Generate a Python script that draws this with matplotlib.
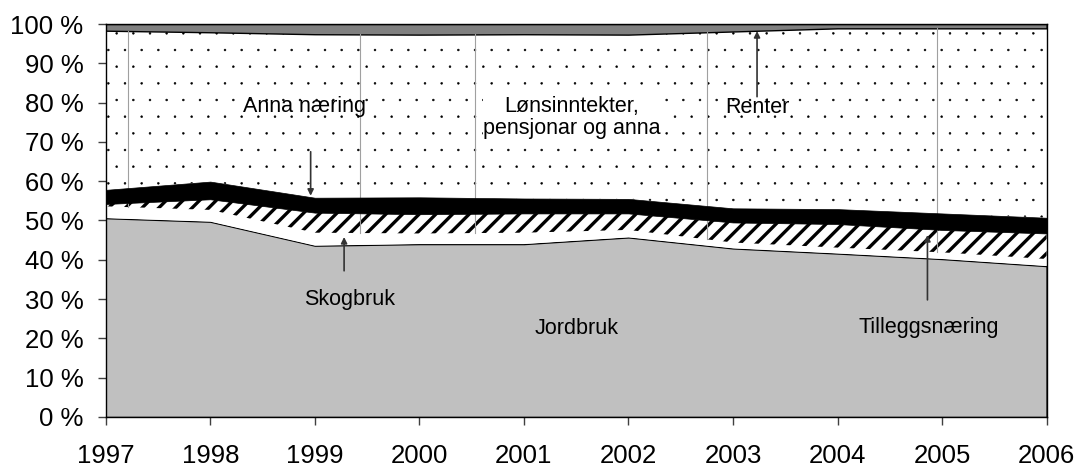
import matplotlib
matplotlib.use("Agg")
import matplotlib.pyplot as plt
import matplotlib.hatch as mhatch
import numpy as np

# Share of total income (%), 1997-2006
years = [1997, 1998, 1999, 2000, 2001, 2002, 2003, 2004, 2005, 2006]
jordbruk = [50.6, 49.7, 43.6, 44.0, 44.0, 45.7, 42.9, 41.6, 40.2, 38.4]
skogbruk = [3.0, 3.0, 3.3, 2.7, 2.9, 1.9, 1.5, 1.5, 1.7, 1.8]
tilleggsnaering = [0.6, 2.7, 5.1, 4.9, 4.9, 4.2, 5.1, 6.0, 5.7, 6.5]
anna_naering = [3.6, 4.5, 3.8, 4.3, 3.8, 3.7, 3.6, 3.8, 4.2, 4.0]
lonsinntekter = [40.5, 38.0, 41.6, 41.4, 41.8, 41.8, 45.0, 46.0, 47.1, 48.2]
renter = [1.7, 2.1, 2.6, 2.7, 2.6, 2.7, 1.9, 1.1, 1.1, 1.1]

y_ticks = [0, 10, 20, 30, 40, 50, 60, 70, 80, 90, 100]
# thin seams of the dotted fill in the original
seam_x = [1997.21, 1999.43, 2000.53, 2002.75, 2004.95]

# finer dots for the "." hatch (default ones are too fat)
mhatch.SmallFilledCircles.size = 0.055

plt.rcParams.update({
    "font.family": ["Liberation Sans", "DejaVu Sans"],
    "hatch.linewidth": 2.4,
})

x = np.array(years, dtype=float)
layers = [jordbruk, skogbruk, tilleggsnaering, anna_naering, lonsinntekter, renter]
tops = np.cumsum(np.array(layers, dtype=float), axis=0)
bottoms = np.vstack([np.zeros(len(x)), tops[:-1]])

fig = plt.figure(figsize=(10.79, 4.68), dpi=100)
ax = fig.add_axes([0.098, 0.109, 0.872, 0.8397])

# Jordbruk
ax.fill_between(x, bottoms[0], tops[0], facecolor="#c0c0c0",
                edgecolor="black", linewidth=1.0, zorder=2)
# Skogbruk
ax.fill_between(x, bottoms[1], tops[1], facecolor="white",
                linewidth=0, zorder=2)
# Tilleggsnæring
hat = ax.fill_between(x, bottoms[2], tops[2], facecolor="white", hatch="//",
                      edgecolor="black", linewidth=0, zorder=2)
if hasattr(hat, "set_hatch_linewidth"):
    hat.set_hatch_linewidth(2.4)
# Lønsinntekter
dots = ax.fill_between(x, bottoms[4], tops[4], facecolor="white", hatch=".",
                       edgecolor="black", linewidth=0, zorder=2)
if hasattr(dots, "set_hatch_linewidth"):
    dots.set_hatch_linewidth(0.4)
# Renter
ax.fill_between(x, bottoms[5], tops[5], facecolor="#808080",
                edgecolor="black", linewidth=1.0, zorder=2)

for sx in seam_x:
    lo = np.interp(sx, x, tops[1])
    hi = np.interp(sx, x, tops[4])
    ax.plot([sx, sx], [lo, hi], color="#a0a0a0", linewidth=0.8, zorder=3)

# Anna næring (solid black band on top of seams)
ax.fill_between(x, bottoms[3], tops[3], facecolor="black",
                edgecolor="black", linewidth=0.5, zorder=4)

ax.set_xlim(years[0], years[-1])
ax.set_ylim(0, 100)
ax.set_xticks(years)
ax.set_xticklabels([str(y) for y in years])
ax.set_yticks(y_ticks)
ax.set_yticklabels([f"{v} %" for v in y_ticks])
ax.tick_params(axis="x", direction="out", length=6, width=1, color="#404040",
               labelsize=18.5, pad=13.5)
ax.tick_params(axis="y", direction="out", length=6, width=1, color="#404040",
               labelsize=18.5, pad=10)
for s in ax.spines.values():
    s.set_color("black")
    s.set_linewidth(1.0)
    s.set_zorder(5)

fs = 15.5
arrow = dict(arrowstyle="-|>", color="#333333", lw=1.2, mutation_scale=9,
             shrinkA=0, shrinkB=0)

ax.text(1998.90, 78.9, "Anna næring", ha="center", va="center", fontsize=fs,
        zorder=6)
ax.annotate("", xy=(1998.96, 56.3), xytext=(1998.96, 67.5),
            arrowprops=arrow, zorder=6)
ax.annotate("", xy=(1999.28, 45.8), xytext=(1999.28, 37.2),
            arrowprops=arrow, zorder=6)
ax.text(1999.33, 29.8, "Skogbruk", ha="center", va="center", fontsize=fs, zorder=6)
ax.text(2001.50, 22.4, "Jordbruk", ha="center", va="center", fontsize=fs, zorder=6)
ax.annotate("", xy=(2004.86, 46.3), xytext=(2004.86, 29.8),
            arrowprops=arrow, zorder=6)
ax.text(2004.87, 22.7, "Tilleggsnæring", ha="center", va="center", fontsize=fs,
        zorder=6)
ax.text(2001.46, 76.3, "Lønsinntekter,\npensjonar og anna", ha="center",
        va="center", fontsize=fs, linespacing=1.05, zorder=6,
        bbox=dict(facecolor="white", edgecolor="none", pad=0.5))
ax.annotate("", xy=(2003.23, 98.2), xytext=(2003.23, 81.5),
            arrowprops=arrow, zorder=6)
ax.text(2003.23, 78.7, "Renter", ha="center", va="center", fontsize=fs, zorder=6)

fig.savefig("out.png", dpi=100)
